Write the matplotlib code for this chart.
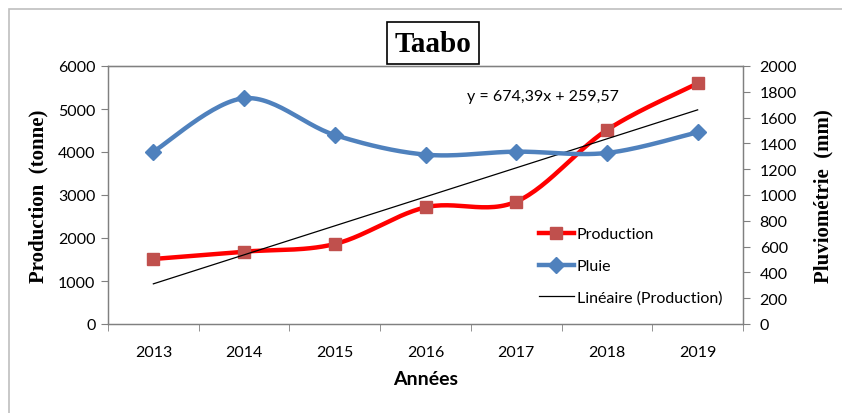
import numpy as np
import matplotlib
matplotlib.use('Agg')
import matplotlib.pyplot as plt
from matplotlib.patches import Rectangle

years = ['2013', '2014', '2015', '2016', '2017', '2018', '2019']
production = [1512, 1682, 1860, 2713, 2845, 4512, 5597]
pluie = [1336, 1750, 1465, 1313, 1336, 1326, 1486]
slope, intercept = 674.39, 259.57


def smooth(y, n=30):
    # excel-style smoothed line (catmull-rom through the points)
    x = np.arange(len(y), dtype=float)
    y = np.asarray(y, dtype=float)
    xs, ys = [], []
    for i in range(len(y) - 1):
        i0, i3 = max(i - 1, 0), min(i + 2, len(y) - 1)
        p0, p1, p2, p3 = [np.array([x[k], y[k]]) for k in (i0, i, i + 1, i3)]
        c1 = p1 + (p2 - p0) / 6
        c2 = p2 - (p3 - p1) / 6
        t = np.linspace(0, 1, n)[:, None]
        b = (1 - t) ** 3 * p1 + 3 * (1 - t) ** 2 * t * c1 + 3 * (1 - t) * t ** 2 * c2 + t ** 3 * p2
        xs.append(b[:, 0]); ys.append(b[:, 1])
    return np.concatenate(xs), np.concatenate(ys)


plt.rcParams['font.family'] = ['Lato', 'DejaVu Sans']
fig = plt.figure(figsize=(8.42, 4.14), dpi=100)
fig.patches.append(Rectangle((9 / 842, -0.1), 1.0, 1 - 10 / 414 + 0.1, transform=fig.transFigure,
                             fill=False, edgecolor='#bfbfbf', linewidth=1.2))

ax = fig.add_axes([108 / 842, 1 - 325 / 414, (743 - 108) / 842, (325 - 67) / 414])
ax2 = ax.twinx()
idx = np.arange(len(years))

red_c, blue_c = '#ff0000', '#4f81bd'
sx, sy = smooth(production)
ax.plot(sx, sy, color=red_c, lw=3.2, zorder=3)
ax.plot(idx, production, ls='none', marker='s', ms=9, color='#c0504d', zorder=4)
tx = idx + 1
ax.plot(idx, slope * tx + intercept, color='black', lw=0.9, zorder=5)

bx, by = smooth(pluie)
ax2.plot(bx, by, color=blue_c, lw=3.2, zorder=3)
ax2.plot(idx, pluie, ls='none', marker='D', ms=8, color=blue_c, zorder=4)

ax.set_xlim(-0.5, 6.5)
ax.set_ylim(0, 6000)
ax2.set_ylim(0, 2000)
ax.set_yticks(np.arange(0, 6001, 1000))
ax2.set_yticks(np.arange(0, 2001, 200))
ax.set_xticks(idx)
ax.set_xticklabels(years)
ax.set_xticks(np.arange(-0.5, 7, 1), minor=True)
fs = 11.5
ax.tick_params(axis='x', which='major', length=0, pad=15, labelsize=fs)
ax.tick_params(axis='x', which='minor', length=5, color='#808080')
ax.tick_params(axis='y', length=5, color='#808080', labelsize=fs, pad=4)
ax2.tick_params(axis='y', length=5, color='#808080', labelsize=fs, pad=7)
for a in (ax, ax2):
    for s in a.spines.values():
        s.set_color('#808080')
        s.set_linewidth(0.9)
ax.spines['top'].set_color('#404040')

ax.set_xlabel('Années', fontsize=14, fontweight='bold', labelpad=8)
ax.set_ylabel('Production  (tonne)', fontsize=15, fontweight='bold',
              family=['Liberation Serif'], labelpad=7)
ax2.set_ylabel('Pluviométrie  (mm)', fontsize=15, fontweight='bold',
               family=['Liberation Serif'], labelpad=12)

ax.text(4.3, 5300, 'y = 674,39x + 259,57', ha='center', va='center', fontsize=fs, zorder=6)

h1 = plt.Line2D([], [], color=red_c, lw=3.2, marker='s', ms=9, mfc='#c0504d', mec='#c0504d')
h2 = plt.Line2D([], [], color=blue_c, lw=3.2, marker='D', ms=8)
h3 = plt.Line2D([], [], color='black', lw=0.9)
leg = ax.legend([h1, h2, h3], ['Production', 'Pluie', 'Linéaire (Production)'],
                loc='upper left', bbox_to_anchor=(0.668, 0.4), frameon=False,
                fontsize=fs, handlelength=2.2, handletextpad=0.2, labelspacing=1.1,
                borderaxespad=0)
leg.set_zorder(10)

fig.text(433 / 842, 1 - 44 / 414, 'Taabo', ha='center', va='center', fontsize=21,
         fontweight='bold', family=['Liberation Serif'],
         bbox=dict(boxstyle='square,pad=0.25', fc='white', ec='black', lw=1.2))

fig.savefig('out.png', dpi=100)
